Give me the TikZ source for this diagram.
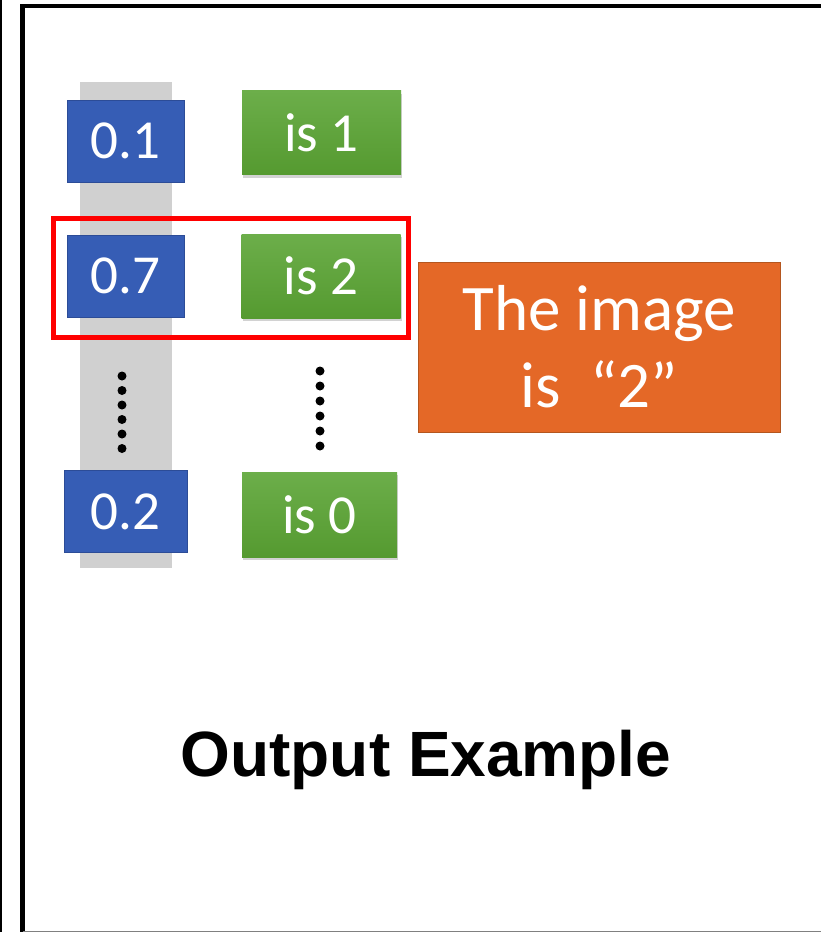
\documentclass[tikz,border=0pt]{standalone}
\usepackage{fontspec}
\setmainfont{Carlito}
\newfontfamily\arialbf{Liberation Sans}
\usetikzlibrary{shadows}

\definecolor{probblue}{HTML}{365DB5}
\definecolor{probedge}{HTML}{2C4C97}
\definecolor{classtop}{HTML}{6CAE4A}
\definecolor{classbot}{HTML}{559A30}
\definecolor{resorange}{HTML}{E46827}
\definecolor{resedge}{HTML}{B4561F}
\definecolor{colgray}{HTML}{D0D0D0}
\definecolor{selred}{HTML}{FF0000}

\begin{document}
\begin{tikzpicture}[x=1pt,y=-1pt]
\tikzstyle{every node}+=[inner sep=0pt]
\tikzstyle{prob}=[draw=probedge,fill=probblue,text=white,minimum width=117pt,minimum height=82pt,font=\fontsize{55}{60}\selectfont]
\tikzstyle{class}=[top color=classtop,bottom color=classbot,text=white,minimum width=159pt,minimum height=84pt,font=\fontsize{55}{60}\selectfont,drop shadow={shadow xshift=1pt,shadow yshift=-3pt,opacity=0.35}]
\tikzstyle{vdot}=[fill=black,circle,minimum size=9pt]
\useasboundingbox (0,0) rectangle (821,932);
\fill[white] (-6,-6) rectangle (827,938);
% frame
\draw[line width=2pt] (1,0) -- (1,932);
\draw[line width=4.5pt] (22.5,932) -- (22.5,6) -- (825,6);
\draw[gray,line width=1pt] (22.5,931.5) -- (825,931.5);
% softmax column
\fill[colgray] (80,82) rectangle (172,568);
\node[prob] (p1) at (125.5,141) {0.1};
\node[prob] (p2) at (125.5,276) {0.7};
\node[prob,minimum width=123pt] (p3) at (125.5,511.5) {0.2};
\node[class] (c1) at (321.5,132.5) {is 1};
\node[class] (c2) at (321,276) {is 2};
\node[class,minimum width=155pt,minimum height=85pt] (c3) at (319.5,514.5) {is 0};
% dots
\foreach \k in {0,...,5} {
  \node[vdot] (dl\k) at (122,376+14.5*\k) {};
  \node[vdot] (dr\k) at (320,371+15*\k) {};
}
% selected row
\draw[selred,line width=5pt] (53.5,218.5) rectangle (408.5,337.5);
\node[draw=resedge,fill=resorange,text=white,minimum width=362pt,minimum height=170pt,align=center,font=\fontsize{65}{77}\selectfont] (res) at (599,347) {The image\\is \ ``2''};
\node[font=\arialbf\bfseries\fontsize{64}{70}\selectfont] (title) at (426,760) {Output Example};
\end{tikzpicture}
\end{document}
